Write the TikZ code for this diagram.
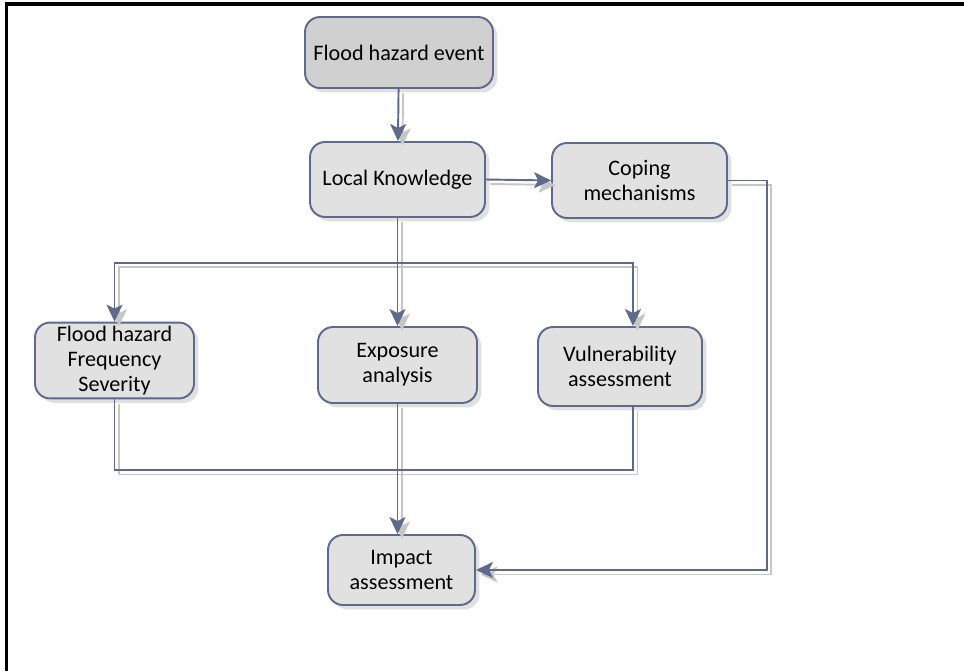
\documentclass[tikz,border=0pt]{standalone}
\usepackage{fontspec}
\setmainfont{Carlito}
\usepackage{tikz}
\usetikzlibrary{arrows.meta,positioning,shadows,calc}
\definecolor{slate}{HTML}{5E6A8B}
\definecolor{stagebg}{HTML}{E1E1E1}
\definecolor{eventbg}{HTML}{D0D0D0}
\definecolor{ghost}{HTML}{C6C6C6}
\tikzset{
  stage/.style={draw=slate,fill=stagebg,rounded corners=0.3cm,
                line width=1.1pt,align=center,inner sep=2pt,
                font=\fontsize{12.6}{14.2}\selectfont,
                drop shadow={shadow xshift=0.09cm,shadow yshift=-0.09cm,
                             fill=black!12,opacity=1}},
  arrowflow/.style={-{Stealth[length=0.34cm,width=0.32cm,inset=0.08cm]},
                    line width=1.1pt},
  linkflow/.style={line width=1.1pt},
}
\begin{document}
\begin{tikzpicture}[x=0.02cm,y=-0.02cm]
  \useasboundingbox (0,0) rectangle (964,671);
  % frame
  \draw[line width=2pt] (6.5,680) -- (6.5,4) -- (970,4);

  % stages
  \node[stage,fill=eventbg,minimum width=3.76cm,minimum height=1.42cm]
    (event) at (399,52.5) {Flood hazard event};
  \node[stage,minimum width=3.5cm,minimum height=1.5cm]
    (know) at (397.5,179.5) {Local Knowledge};
  \node[stage,minimum width=3.5cm,minimum height=1.5cm]
    (coping) at (639.5,180.5) {Coping\\mechanisms};
  \node[stage,minimum width=3.18cm,minimum height=1.5cm]
    (freq) at (114.5,360.5) {Flood hazard\\Frequency\\Severity};
  \node[stage,minimum width=3.18cm,minimum height=1.52cm]
    (expo) at (397.5,365) {Exposure\\analysis};
  \node[stage,minimum width=3.28cm,minimum height=1.58cm]
    (vuln) at (620,366.5) {Vulnerability\\assessment};
  \node[stage,minimum width=2.94cm,minimum height=1.4cm]
    (impact) at (401.5,570) {Impact\\assessment};

  % split and merge points
  \coordinate (split) at ([yshift=-0.9cm]know.south);
  \coordinate (merge) at (expo.south |- 0,470);

  % connectors: grey offset copy first, then the slate line
  \foreach \tone/\off in {ghost/0.09,slate/0}{
    \begin{scope}[\tone,transform canvas={shift={(\off cm,-\off cm)}}]
      \draw[arrowflow] (event) -- (know);
      \draw[arrowflow] (know.east) -- (coping.west);
      \draw[arrowflow] (know.south) -- (expo.north);
      \draw[arrowflow] (split) -| (freq.north);
      \draw[arrowflow] (split) -| ([xshift=0.26cm]vuln.north);
      \draw[arrowflow] (expo.south) -- (expo.south |- impact.north);
      \draw[linkflow] (freq.south) |- (merge);
      \draw[linkflow] ([xshift=0.26cm]vuln.south) |- (merge);
      \draw[arrowflow] (coping.east) -- ++(0.78cm,0) |- (impact.east);
    \end{scope}
  }
\end{tikzpicture}
\end{document}
